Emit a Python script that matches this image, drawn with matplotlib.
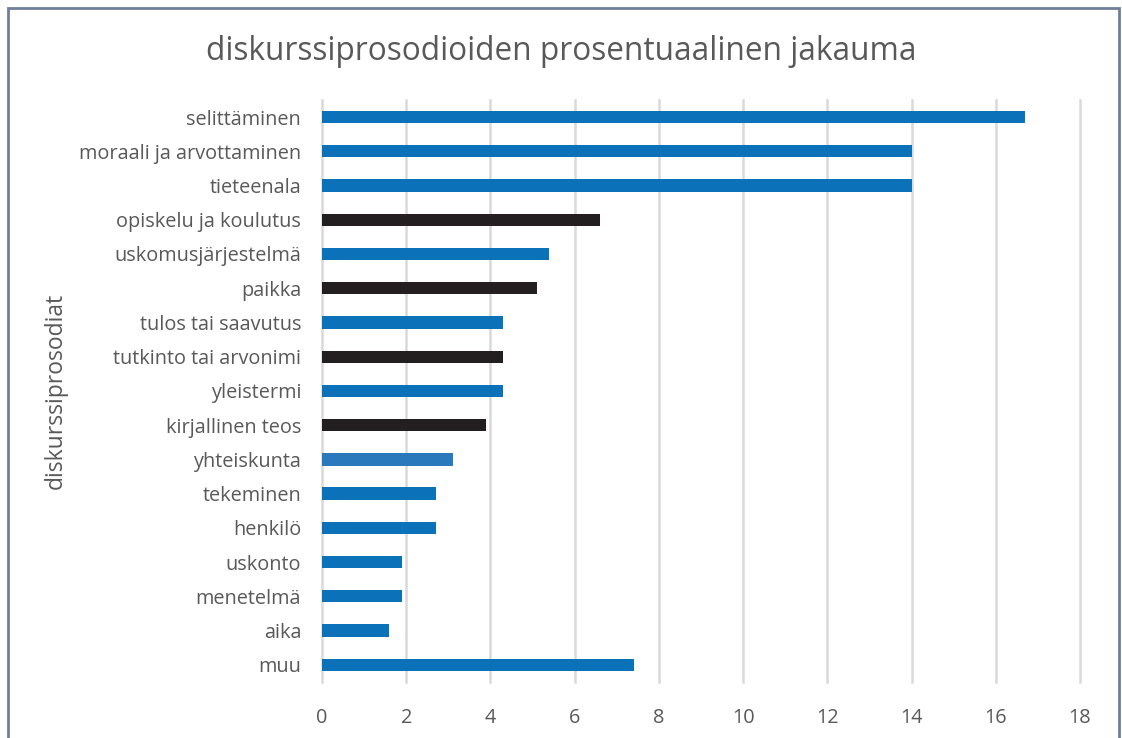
import matplotlib.pyplot as plt
from matplotlib.patches import Rectangle

categories = ['selittäminen', 'moraali ja arvottaminen', 'tieteenala', 'opiskelu ja koulutus',
              'uskomusjärjestelmä', 'paikka', 'tulos tai saavutus', 'tutkinto tai arvonimi',
              'yleistermi', 'kirjallinen teos', 'yhteiskunta', 'tekeminen', 'henkilö',
              'uskonto', 'menetelmä', 'aika', 'muu']
values = [16.7, 14.0, 14.0, 6.6, 5.4, 5.1, 4.3, 4.3, 4.3, 3.9, 3.1, 2.7, 2.7, 1.9, 1.9, 1.6, 7.4]
# b = sininen, k = musta, l = vaaleampi sininen
kinds = ['b', 'b', 'b', 'k', 'b', 'k', 'b', 'k', 'b', 'k', 'l', 'b', 'b', 'b', 'b', 'b', 'b']
palette = {'b': '#0B72BA', 'k': '#231F20', 'l': '#2A79BC'}

plt.rcParams['font.family'] = ['Open Sans', 'DejaVu Sans']
txt = '#595959'

fig = plt.figure(figsize=(11.22, 7.38), dpi=100)
ax = fig.add_axes([0.287, 0.076, 0.6756, 0.7886])

ypos = list(range(len(categories)))
ax.barh(ypos, values, height=0.36, color=[palette[k] for k in kinds], zorder=3)
ax.set_ylim(len(categories) - 0.5, -0.5)
ax.set_xlim(0, 18)
ax.set_xticks(range(0, 19, 2))
ax.set_yticks(ypos)
ax.set_yticklabels(categories)
ax.tick_params(axis='both', length=0, colors=txt, labelsize=14.3)
ax.tick_params(axis='y', pad=15)
ax.tick_params(axis='x', pad=19)
ax.grid(axis='x', color='#D9D9D9', linewidth=1.8, zorder=0)
for gl in ax.get_xgridlines():
    gl.set_clip_on(False)
for s in ax.spines.values():
    s.set_visible(False)
ax.set_ylabel('diskurssiprosodiat', fontsize=16.5, color=txt, labelpad=8)

fig.suptitle('diskurssiprosodioiden prosentuaalinen jakauma', fontsize=22.8, color=txt,
             y=0.953)

fig.patches.append(Rectangle((8 / 1122, -0.05), 1111 / 1122, 1.05 - 8 / 738,
                             transform=fig.transFigure, fill=False,
                             edgecolor='#6F7F99', linewidth=2))

fig.savefig('out.png', dpi=100)
